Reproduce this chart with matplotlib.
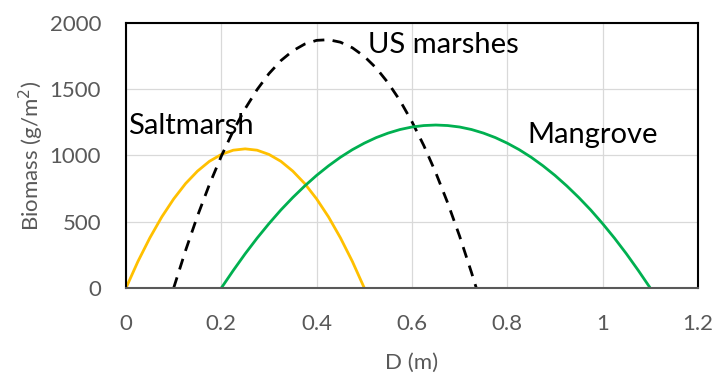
import matplotlib
matplotlib.use("Agg")
import matplotlib.pyplot as plt

plt.rcParams['font.family'] = ['Lato', 'DejaVu Sans']

# Saltmarsh curve (D in m, biomass in g/m2)
salt_d = [0, 0.025, 0.05, 0.075, 0.1, 0.125, 0.15, 0.175, 0.2, 0.225, 0.25,
          0.275, 0.3, 0.325, 0.35, 0.375, 0.4, 0.425, 0.45, 0.475, 0.5]
salt_b = [0, 200, 378, 536, 672, 788, 882, 956, 1008, 1040, 1050,
          1040, 1008, 956, 882, 788, 672, 536, 378, 200, 0]

# US marshes curve
us_d = [0.1, 0.125, 0.15, 0.175, 0.2, 0.225, 0.25, 0.275, 0.3, 0.325, 0.35,
        0.375, 0.4, 0.425, 0.45, 0.475, 0.5, 0.525, 0.55, 0.575, 0.6,
        0.625, 0.65, 0.675, 0.7, 0.725, 0.735]
us_b = [0, 283, 544, 781, 995, 1186, 1353, 1497, 1618, 1716, 1790,
        1841, 1869, 1874, 1855, 1813, 1748, 1660, 1548, 1414, 1255,
        1074, 870, 642, 391, 116, 0]

# Mangrove curve
mang_d = [0.2, 0.225, 0.25, 0.275, 0.3, 0.325, 0.35, 0.375, 0.4, 0.425,
          0.45, 0.475, 0.5, 0.525, 0.55, 0.575, 0.6, 0.625, 0.65,
          0.675, 0.7, 0.725, 0.75, 0.775, 0.8, 0.825, 0.85, 0.875,
          0.9, 0.925, 0.95, 0.975, 1.0, 1.025, 1.05, 1.075, 1.1]
mang_b = [0, 132, 258, 376, 486, 589, 683, 770, 850, 922,
          987, 1044, 1093, 1135, 1169, 1196, 1215, 1226, 1230,
          1226, 1215, 1196, 1169, 1135, 1093, 1044, 987, 922,
          850, 770, 683, 589, 486, 376, 258, 132, 0]

x_ticks = [0, 0.2, 0.4, 0.6, 0.8, 1.0, 1.2]
x_tick_labels = ['0', '0.2', '0.4', '0.6', '0.8', '1', '1.2']
y_ticks = [0, 500, 1000, 1500, 2000]

gray = '#595959'

fig = plt.figure(figsize=(7.18, 3.74), dpi=100)
ax = fig.add_axes([0.1755, 0.23, 0.7965, 0.7085])

ax.plot(salt_d, salt_b, color='#FFC000', lw=2.0)
ax.plot(us_d, us_b, color='black', lw=2.0, ls=(0, (4, 3)))
ax.plot(mang_d, mang_b, color='#00B050', lw=2.0)

ax.set_xlim(0, 1.2)
ax.set_ylim(0, 2000)
ax.set_xticks(x_ticks)
ax.set_xticklabels(x_tick_labels)
ax.set_yticks(y_ticks)
ax.grid(True, color='#D9D9D9', lw=0.9)
ax.set_axisbelow(True)
ax.tick_params(length=0, labelsize=16, labelcolor=gray)
ax.tick_params(axis='x', pad=19)
ax.tick_params(axis='y', pad=18)

for side in ['top', 'left', 'right']:
    ax.spines[side].set_color('black')
    ax.spines[side].set_linewidth(1.5)
ax.spines['bottom'].set_color(gray)
ax.spines['bottom'].set_linewidth(1.5)

ax.set_xlabel('D (m)', fontsize=16, color=gray)
ax.set_ylabel('Biomass (g/m$^2$)', fontsize=16, color=gray)
ax.xaxis.set_label_coords(0.5, -0.245)
ax.yaxis.set_label_coords(-0.14, 0.5)

ax.text(0.005, 1223, 'Saltmarsh', fontsize=21, va='center', ha='left')
ax.text(0.508, 1834, 'US marshes', fontsize=21, va='center', ha='left')
ax.text(0.843, 1155, 'Mangrove', fontsize=21, va='center', ha='left')

plt.savefig('out.png', dpi=100)
